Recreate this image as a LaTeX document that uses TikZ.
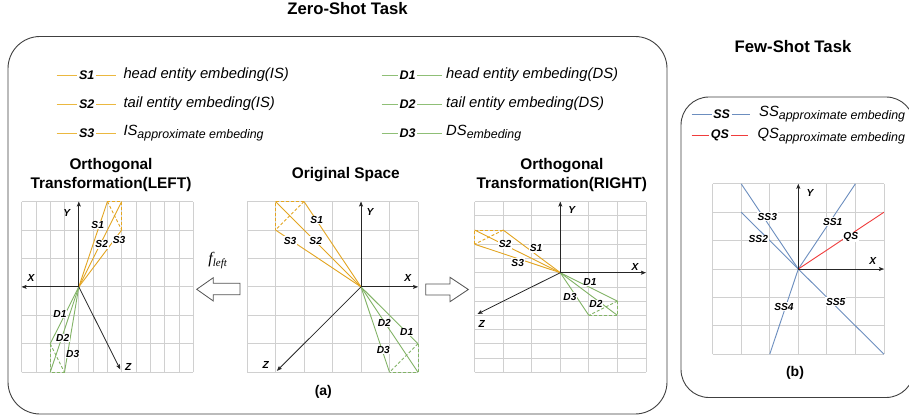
\documentclass[tikz,border=0pt]{standalone}
\usepackage{fontspec}
\setmainfont{Liberation Sans}
\newfontfamily\timesfont{Liberation Serif}
\usetikzlibrary{arrows.meta}

\definecolor{goldline}{HTML}{E3A521}
\definecolor{goldleg}{HTML}{EBB840}
\definecolor{greenline}{HTML}{82B366}
\definecolor{greenleg}{HTML}{8FBF76}
\definecolor{blueline}{HTML}{6C8EBF}
\definecolor{redline}{HTML}{F03C3C}
\definecolor{gridgray}{HTML}{D0D0D0}
\definecolor{framegray}{HTML}{404040}

% lowered, smaller text used as a subscript in the legends
\newcommand{\lowsub}[1]{\raisebox{-3pt}{\fontsize{12.4}{14}\selectfont #1}}

\begin{document}
\begin{tikzpicture}[x=1pt,y=-1pt,
  frame/.style={draw=framegray,line width=0.9pt},
  gridline/.style={draw=gridgray,line width=0.8pt},
  axisline/.style={draw=black!85,line width=0.8pt,-{Stealth[length=5pt,width=4pt,inset=1pt]}},
  svec/.style={draw=goldline,line width=0.9pt},
  dvec/.style={draw=greenline,line width=0.9pt},
  bvec/.style={draw=blueline,line width=0.9pt},
  rvec/.style={draw=redline,line width=0.9pt},
  sdash/.style={svec,dash pattern=on 3pt off 2pt},
  ddash/.style={dvec,dash pattern=on 3pt off 2pt},
  sleg/.style={color=goldleg,line width=1.2pt},
  dleg/.style={color=greenleg,line width=1.2pt},
  bleg/.style={color=blueline,line width=1.2pt},
  rleg/.style={color=redline,line width=1.2pt},
  sectitle/.style={font=\fontsize{16.7}{19}\selectfont\bfseries,inner sep=0pt},
  paneltitle/.style={font=\fontsize{15.4}{18.6}\selectfont\bfseries,align=center,inner sep=0pt},
  leglabel/.style={font=\fontsize{12.5}{14}\selectfont\bfseries\itshape,inner sep=1.6pt},
  legtext/.style={font=\fontsize{14.8}{17}\selectfont\itshape,anchor=base west,inner sep=0pt},
  vlabel/.style={fill=white,inner sep=0.6pt,font=\fontsize{10.2}{12}\selectfont\bfseries\itshape},
  alabel/.style={inner sep=0pt,font=\fontsize{10.2}{12}\selectfont\bfseries\itshape},
  caption/.style={font=\fontsize{14}{16}\selectfont\bfseries,inner sep=0pt},
  blockarrow/.style={draw=framegray!90,line width=0.8pt,fill=white,line join=miter}
]
\useasboundingbox (0,0) rectangle (909,419);
\fill[white] (0,0) rectangle (909,419);

% ---------- frames and titles ----------
\draw[frame,rounded corners=32pt] (8,36.5) rectangle (667,414);
\draw[frame,rounded corners=28pt] (681,97) rectangle (914,397.5);

\node[sectitle] (zstitle) at (347.5,9) {Zero-Shot Task};
\node[sectitle] (fstitle) at (793,47) {Few-Shot Task};

\node[paneltitle] (tleft)  at (111,175)   {Orthogonal\\Transformation(LEFT)};
\node[paneltitle] (torig)  at (345.8,175) {Original Space};
\node[paneltitle] (tright) at (561.8,175) {Orthogonal\\Transformation(RIGHT)};

% ---------- legend: S vectors ----------
\coordinate (ls1a) at (56.7,75.5);  \coordinate (ls1b) at (116,75.5);
\coordinate (ls2a) at (56.7,104.5); \coordinate (ls2b) at (116,104.5);
\coordinate (ls3a) at (56.7,133.5); \coordinate (ls3b) at (116,133.5);
\node[leglabel] (ls1) at (86.7,75.5)  {S1};
\node[leglabel] (ls2) at (86.7,104.5) {S2};
\node[leglabel] (ls3) at (86.7,133.5) {S3};
\draw[sleg] (ls1a) -- (ls1) -- (ls1b);
\draw[sleg] (ls2a) -- (ls2) -- (ls2b);
\draw[sleg] (ls3a) -- (ls3) -- (ls3b);
\node[legtext] (dscs1) at (123.3,79)    {head entity embeding(IS)};
\node[legtext] (dscs2) at (123.3,107.7) {tail entity embeding(IS)};
\node[legtext] (dscs3) at (123.3,135.5) {IS\lowsub{approximate embeding}};

% ---------- legend: D vectors ----------
\coordinate (ld1a) at (381.7,75.5);  \coordinate (ld1b) at (441.7,75.5);
\coordinate (ld2a) at (381.7,104.5); \coordinate (ld2b) at (441.7,104.5);
\coordinate (ld3a) at (381.7,133.5); \coordinate (ld3b) at (441.7,133.5);
\node[leglabel] (ld1) at (407.7,75.5)  {D1};
\node[leglabel] (ld2) at (407.7,104.5) {D2};
\node[leglabel] (ld3) at (407.7,133.5) {D3};
\draw[dleg] (ld1a) -- (ld1) -- (ld1b);
\draw[dleg] (ld2a) -- (ld2) -- (ld2b);
\draw[dleg] (ld3a) -- (ld3) -- (ld3b);
\node[legtext] (dscd1) at (446,79)    {head entity embeding(DS)};
\node[legtext] (dscd2) at (446,107.7) {tail entity embeding(DS)};
\node[legtext] (dscd3) at (446,135.5) {DS\lowsub{embeding}};

% ---------- legend: few-shot ----------
\coordinate (lssa) at (691.7,114.5); \coordinate (lssb) at (750,114.5);
\coordinate (lqsa) at (691.7,135.5); \coordinate (lqsb) at (748.3,135.5);
\node[leglabel] (lss) at (721.7,114.5) {SS};
\node[leglabel] (lqs) at (720,135.5)   {QS};
\draw[bleg] (lssa) -- (lss) -- (lssb);
\draw[rleg] (lqsa) -- (lqs) -- (lqsb);
\node[legtext] (dscss) at (759,116.7)   {SS\lowsub{approximate embeding}};
\node[legtext] (dscqs) at (757.3,138.3) {QS\lowsub{approximate embeding}};

% ---------- left panel: orthogonal transformation (left) ----------
\begin{scope}[shift={(78.8,286.9)},x={(14.3pt,0pt)},y={(0pt,28.45pt)}]
  \draw[gridline,step=1] (-4,-3) grid (8,3);
  \coordinate (L-o) at (0,0);
  \coordinate (L-y) at (0,3);  \coordinate (L-x) at (-4,0); \coordinate (L-z) at (2.9,-2.9);
  \coordinate (L-s1) at (2,3); \coordinate (L-s2) at (3,3); \coordinate (L-s3) at (3,2);
  \coordinate (L-d1) at (-2,-2); \coordinate (L-d2) at (-2,-3); \coordinate (L-d3) at (-1,-3);
\end{scope}
\draw[svec] (L-o) -- (L-s1); \draw[svec] (L-o) -- (L-s2); \draw[svec] (L-o) -- (L-s3);
\draw[sdash] (L-s1) -- (L-s2) -- (L-s3); \draw[sdash] (L-s1) -- (L-s3);
\draw[dvec] (L-o) -- (L-d1); \draw[dvec] (L-o) -- (L-d2); \draw[dvec] (L-o) -- (L-d3);
\draw[ddash] (L-d1) -- (L-d2) -- (L-d3); \draw[ddash] (L-d1) -- (L-d3);
\draw[axisline] (L-o) -- (L-y);
\draw[axisline] (L-o) -- (L-x);
\draw[axisline] (L-o) -- (L-z);
\node[alabel] (L-ylab) at (66.7,213.3) {Y};
\node[alabel] (L-xlab) at (31,278.3)   {X};
\node[alabel] (L-zlab) at (128.3,366.7) {Z};
\node[vlabel] (L-s1lab) at (97.7,225)   {S1};
\node[vlabel] (L-s2lab) at (101.7,244.3) {S2};
\node[vlabel] (L-s3lab) at (119,239.5)  {S3};
\node[vlabel] (L-d1lab) at (60,314)     {D1};
\node[vlabel] (L-d2lab) at (62.7,338.3) {D2};
\node[vlabel] (L-d3lab) at (72.7,354)   {D3};

% ---------- middle panel: original space ----------
\begin{scope}[shift={(361,286.9)},x={(28.5pt,0pt)},y={(0pt,28.45pt)}]
  \draw[gridline,step=1] (-4,-3) grid (2,3);
  \coordinate (O-o) at (0,0);
  \coordinate (O-y) at (0,3); \coordinate (O-x) at (2,0); \coordinate (O-z) at (-2.95,-2.95);
  \coordinate (O-s1) at (-2,3); \coordinate (O-s2) at (-3,3); \coordinate (O-s3) at (-3,2);
  \coordinate (O-d1) at (2,-2); \coordinate (O-d2) at (2,-3); \coordinate (O-d3) at (1,-3);
\end{scope}
\draw[svec] (O-o) -- (O-s1); \draw[svec] (O-o) -- (O-s2); \draw[svec] (O-o) -- (O-s3);
\draw[sdash] (O-s1) -- (O-s2) -- (O-s3); \draw[sdash] (O-s1) -- (O-s3);
\draw[dvec] (O-o) -- (O-d1); \draw[dvec] (O-o) -- (O-d2); \draw[dvec] (O-o) -- (O-d3);
\draw[ddash] (O-d1) -- (O-d2) -- (O-d3); \draw[ddash] (O-d1) -- (O-d3);
\draw[axisline] (O-o) -- (O-y);
\draw[axisline] (O-o) -- (O-x);
\draw[axisline] (O-o) -- (O-z);
\node[alabel] (O-ylab) at (370,211.7)   {Y};
\node[alabel] (O-xlab) at (407.7,278.3) {X};
\node[alabel] (O-zlab) at (265.7,365)   {Z};
\node[vlabel] (O-s1lab) at (316.7,220)   {S1};
\node[vlabel] (O-s2lab) at (315.7,240.7) {S2};
\node[vlabel] (O-s3lab) at (290,240.7)   {S3};
\node[vlabel] (O-d1lab) at (406.7,331.7) {D1};
\node[vlabel] (O-d2lab) at (384.3,322.7) {D2};
\node[vlabel] (O-d3lab) at (383.3,350)   {D3};

% ---------- right panel: orthogonal transformation (right) ----------
\begin{scope}[shift={(560.3,272.7)},x={(28.55pt,0pt)},y={(0pt,14.22pt)}]
  \draw[gridline,step=1] (-3,-7) grid (3,5);
  \coordinate (R-o) at (0,0);
  \coordinate (R-y) at (0,5); \coordinate (R-x) at (3,0); \coordinate (R-z) at (-2.9,-2.9);
  \coordinate (R-s1) at (-2,3); \coordinate (R-s2) at (-3,3); \coordinate (R-s3) at (-3,2);
  \coordinate (R-d1) at (2,-2); \coordinate (R-d2) at (2,-3); \coordinate (R-d3) at (1,-3);
\end{scope}
\draw[svec] (R-o) -- (R-s1); \draw[svec] (R-o) -- (R-s2); \draw[svec] (R-o) -- (R-s3);
\draw[sdash] (R-s1) -- (R-s2) -- (R-s3); \draw[sdash] (R-s1) -- (R-s3);
\draw[dvec] (R-o) -- (R-d1); \draw[dvec] (R-o) -- (R-d2); \draw[dvec] (R-o) -- (R-d3);
\draw[ddash] (R-d1) -- (R-d2) -- (R-d3); \draw[ddash] (R-d1) -- (R-d3);
\draw[axisline] (R-o) -- (R-y);
\draw[axisline] (R-o) -- (R-x);
\draw[axisline] (R-o) -- (R-z);
\node[alabel] (R-ylab) at (571.7,210)   {Y};
\node[alabel] (R-xlab) at (635,266.7)   {X};
\node[alabel] (R-zlab) at (481.7,324)   {Z};
\node[vlabel] (R-s1lab) at (536,248.3)   {S1};
\node[vlabel] (R-s2lab) at (505,244.3)   {S2};
\node[vlabel] (R-s3lab) at (517.7,262.7) {S3};
\node[vlabel] (R-d1lab) at (590,281.7)   {D1};
\node[vlabel] (R-d2lab) at (596,304)     {D2};
\node[vlabel] (R-d3lab) at (570,296.7)   {D3};

% ---------- transformation arrows ----------
\draw[blockarrow] (196.7,289.3) -- (213.3,277.7) -- (213.3,283.3) -- (240,283.3)
  -- (240,294.8) -- (213.3,294.8) -- (213.3,301) -- cycle;
\draw[blockarrow] (425.7,284) -- (450,284) -- (450,277.3) -- (468.3,289.5)
  -- (450,301.7) -- (450,295) -- (425.7,295) -- cycle;
\node[inner sep=0pt] (fleft) at (217.7,260.7)
  {\timesfont\fontsize{16}{18}\selectfont\itshape f\raisebox{-2.5pt}{\fontsize{11}{12}\selectfont left}};

\node[caption] (capa) at (323.3,391.7) {(a)};

% ---------- few-shot panel ----------
\begin{scope}[shift={(798.3,269)},x={(28.55pt,0pt)},y={(0pt,28.4pt)}]
  \draw[gridline,step=1] (-3,-3) grid (3,3);
  \coordinate (F-o) at (0,0);
  \coordinate (F-y) at (0,3); \coordinate (F-x) at (3,0);
  \coordinate (F-ss1) at (2,3);  \coordinate (F-ss3) at (-2,3);
  \coordinate (F-ss2) at (-2,2); \coordinate (F-ss4) at (-1,-3);
  \coordinate (F-ss5) at (3,-3); \coordinate (F-qs) at (3,2);
\end{scope}
\draw[bvec] (F-o) -- (F-ss1);
\draw[bvec] (F-o) -- (F-ss2);
\draw[bvec] (F-o) -- (F-ss3);
\draw[bvec] (F-o) -- (F-ss4);
\draw[bvec] (F-o) -- (F-ss5);
\draw[rvec] (F-o) -- (F-qs);
\draw[axisline] (F-o) -- (F-y);
\draw[axisline] (F-o) -- (F-x);
\node[alabel] (F-ylab) at (810,193.3)   {Y};
\node[alabel] (F-xlab) at (872.7,260.7) {X};
\node[vlabel] (F-ss3lab) at (767.3,216.7) {SS3};
\node[vlabel] (F-ss1lab) at (832.7,221.7) {SS1};
\node[vlabel] (F-ss2lab) at (758.3,239)   {SS2};
\node[vlabel] (F-qslab)  at (850.7,236.7) {QS};
\node[vlabel] (F-ss4lab) at (784,306.7)   {SS4};
\node[vlabel] (F-ss5lab) at (835.7,301.7) {SS5};

\node[caption] (capb) at (795,373.3) {(b)};
\end{tikzpicture}
\end{document}
